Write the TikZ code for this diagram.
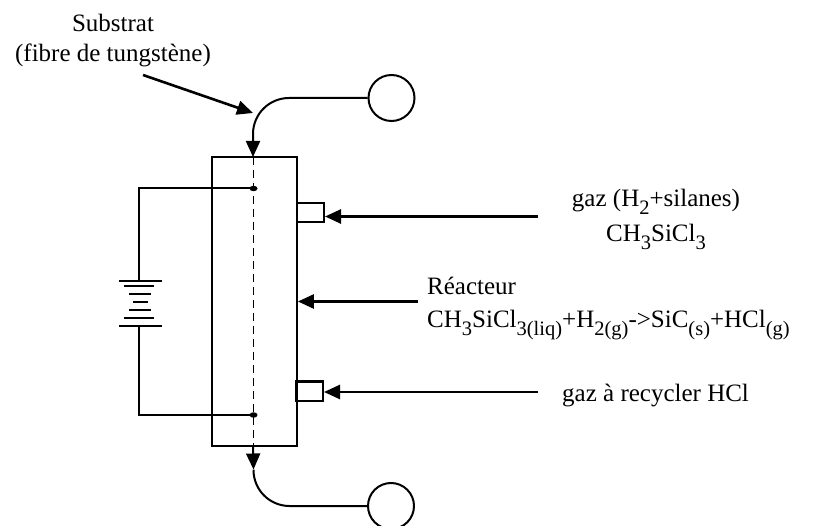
\documentclass[tikz,border=0pt]{standalone}
\usepackage{fontspec}
\setmainfont{Liberation Serif}
\usepackage{tikz}
\usetikzlibrary{arrows.meta,positioning,shapes.geometric}

\newcommand{\lowtxt}[1]{\raisebox{-0.3em}{\fontsize{20.5}{20.5}\selectfont #1}}

\begin{document}
\begin{tikzpicture}[
    x=1pt, y=-1pt,
    wire/.style={line width=2pt},
    arrow/.style={line width=2.6pt, -{Triangle[length=16pt,width=14pt]}},
    txt/.style={font=\fontsize{25}{25}\selectfont, inner sep=0pt},
    plate/.style={line width=2pt},
    dot/.style={fill, ellipse, minimum width=8pt, minimum height=5.5pt, inner sep=0pt},
    bobbin/.style={draw, circle, line width=2pt, minimum size=46pt, inner sep=0pt},
    inlet/.style={draw, line width=2pt, minimum width=27pt, minimum height=19pt, inner sep=0pt}
]
    \useasboundingbox (0,0) rectangle (819,526);

    % Reacteur
    \node[draw, line width=2.2pt, minimum width=85pt, minimum height=289pt, inner sep=0pt] (reactor) at (254.3,301.5) {};
    \node[inlet] (inletTop) at (310.5,212.5) {};
    \node[inlet] (inletBot) at (309.5,391) {};

    % Bobines
    \node[bobbin] (bobbinTop) at (391.5,98) {};
    \node[bobbin] (bobbinBot) at (391,506) {};

    % Fibre
    \coordinate (fibreTop) at (253,157);
    \coordinate (fibreBot) at (253.5,469.5);
    \coordinate (fibreEnd) at (253,446);
    \draw[arrow, line width=2pt, rounded corners=36pt] (bobbinTop.west) -| (fibreTop);
    \draw[dashed, line width=1pt, dash pattern=on 8pt off 5pt] (fibreTop) -- (fibreEnd);
    \draw[line width=2pt, rounded corners=36pt] (bobbinBot.west) -| (fibreBot);
    \draw[arrow, line width=2pt] (fibreEnd) -- (fibreBot);

    % Electrodes
    \node[dot] (dotTop) at (253.5,188.5) {};
    \node[dot] (dotBot) at (253.5,415) {};

    % Pile
    \coordinate (pileTop) at (139,281);
    \coordinate (pileBot) at (139,326);
    \draw[plate] (pileTop) ++(-20,0) -- ++(43,0);
    \draw[plate] (124,286) -- (154,286);
    \draw[plate] (129,294) -- (151,294);
    \draw[plate] (133,302) -- (148,302);
    \draw[plate] (129,310) -- (151,310);
    \draw[plate] (124,318) -- (154,318);
    \draw[plate] (pileBot) ++(-20,0) -- ++(43,0);
    \draw[wire] (dotTop.center) -| (pileTop);
    \draw[wire] (dotBot.center) -| (pileBot);

    % Textes
    \node[txt, anchor=base] (substrat) at (113,32) {Substrat};
    \node[txt, anchor=base] (fibreTxt) at (113,62) {(fibre de tungstène)};
    \node[txt, anchor=base] (gazIn) at (656,207) {gaz (H\lowtxt{2}+silanes)};
    \node[txt, anchor=base] (gazFormula) at (656,242) {CH\lowtxt{3}SiCl\lowtxt{3}};
    \node[txt, anchor=base west] (reacTxt) at (427,295) {Réacteur};
    \node[txt, anchor=base west] (reacEq) at (427,328) {CH\lowtxt{3}SiCl\lowtxt{3(liq)}+H\lowtxt{2(g)}->SiC\lowtxt{(s)}+HCl\lowtxt{(g)}};
    \node[txt, anchor=base west] (gazOut) at (562,402) {gaz à recycler HCl};

    % Arrows
    \coordinate (substratTail) at (143,75);
    \coordinate (substratTip) at (253,113);
    \coordinate (gazInTail) at (538,216.5);
    \coordinate (reacTail) at (418,301.5);
    \coordinate (gazOutTail) at (538,392);
    \draw[arrow] (substratTail) -- (substratTip);
    \draw[arrow] (gazInTail) -- (inletTop.east |- gazInTail);
    \draw[arrow] (reacTail) -- (reacTail -| reactor.east);
    \draw[arrow] (gazOutTail) -- (inletBot.east |- gazOutTail);
\end{tikzpicture}
\end{document}
